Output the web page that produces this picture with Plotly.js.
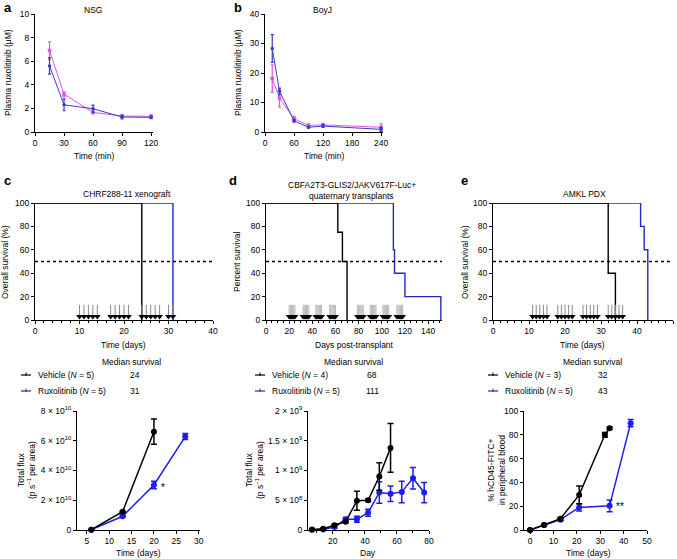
<!DOCTYPE html>
<html><head><meta charset="utf-8">
<script src="https://cdn.plot.ly/plotly-3.0.1.min.js"></script>
<style>html,body{margin:0;padding:0;background:#fff}#chart{width:677px;height:559px}</style>
</head><body><div id="chart"></div>
<script>
// ---------- DATA ----------
const pkTimeNSG = [15, 30, 60, 90, 120];
const nsgBlue = [5.6, 2.3, 1.97, 1.27, 1.24];
const nsgBlueErr = [0.7, 0.5, 0.3, 0.15, 0.1];
const nsgPink = [6.9, 3.2, 1.66, 1.35, 1.33];
const nsgPinkErr = [0.75, 0.2, 0.12, 0.12, 0.12];

const pkTimeBoyJ = [15, 30, 60, 90, 120, 240];
const boyjBlue = [28.3, 13.8, 3.8, 1.6, 2.0, 0.9];
const boyjBlueErr = [4.7, 1.1, 0.5, 0.3, 0.4, 0.7];
const boyjPink = [18.1, 11.5, 4.5, 2.2, 2.4, 1.6];
const boyjPinkErr = [4.7, 3.0, 0.8, 0.6, 0.5, 1.2];

const cVehTime = [0, 24], cVehSurv = [100, 0];
const cRuxTime = [0, 31], cRuxSurv = [100, 0];
const dVehTime = [0, 62, 66, 70], dVehSurv = [100, 75, 50, 0];
const dRuxTime = [0, 110, 111, 120, 151], dRuxSurv = [100, 60, 40, 20, 0];
const eVehTime = [0, 32, 34], eVehSurv = [100, 40, 0];
const eRuxTime = [0, 41, 42, 43], eRuxSurv = [100, 80, 60, 0];

const cDoseDays = [10, 11, 12, 13, 14, 17, 18, 19, 20, 21, 24, 25, 26, 27, 28, 30, 31];
const dDoseDays = [20, 21, 22, 23, 24, 25, 32, 33, 34, 35, 36, 37, 43, 44, 45, 46, 47, 48, 55, 56, 57, 58, 59, 60,
                   79, 80, 81, 82, 83, 84, 90, 91, 92, 93, 94, 95, 101, 102, 103, 104, 105, 106, 113, 114, 115, 116, 117, 118];
const eDoseDays = [11, 12, 13, 14, 15, 18, 19, 20, 21, 22, 25, 26, 27, 28, 29, 32, 33, 34, 35, 36];

const cMedVeh = '24', cMedRux = '31', cNVeh = 5, cNRux = 5;
const dMedVeh = '68', dMedRux = '111', dNVeh = 4, dNRux = 5;
const eMedVeh = '32', eMedRux = '43', eNVeh = 3, eNRux = 5;

const cFluxVehDays = [6, 13, 20];
const cFluxVeh = [0.02e10, 1.23e10, 6.61e10];
const cFluxVehErr = [0, 0.05e10, 0.85e10];
const cFluxRuxDays = [6, 13, 20, 27];
const cFluxRux = [0.02e10, 0.92e10, 3.03e10, 6.28e10];
const cFluxRuxErr = [0, 0.05e10, 0.25e10, 0.2e10];

const dFluxVehDays = [7, 14, 21, 28, 35, 42, 49, 56];
const dFluxVeh = [0.01e9, 0.02e9, 0.08e9, 0.14e9, 0.49e9, 0.50e9, 0.90e9, 1.38e9];
const dFluxVehErr = [0, 0.01e9, 0.02e9, 0.02e9, 0.16e9, 0.02e9, 0.23e9, 0.41e9];
const dFluxRuxDays = [7, 14, 21, 28, 35, 42, 49, 56, 63, 70, 77];
const dFluxRux = [0.005e9, 0.01e9, 0.05e9, 0.18e9, 0.18e9, 0.29e9, 0.63e9, 0.61e9, 0.64e9, 0.87e9, 0.63e9];
const dFluxRuxErr = [0, 0.01e9, 0.02e9, 0.03e9, 0.05e9, 0.06e9, 0.18e9, 0.13e9, 0.18e9, 0.18e9, 0.17e9];

const ePctVehDays = [0, 6, 13, 21, 32, 34];
const ePctVeh = [0, 4.2, 9.5, 29.5, 80, 85.5];
const ePctVehErr = [0, 0.5, 1, 7.5, 2, 1];
const ePctRuxDays = [0, 6, 13, 21, 34, 43];
const ePctRux = [0, 4.2, 8.7, 19, 20.3, 89.8];
const ePctRuxErr = [0, 0.5, 1, 3, 5, 3];

const cFluxTickVals = [0, 2e10, 4e10, 6e10, 8e10];
const cFluxTickText = ['0', '2 × 10<sup>10</sup>', '4 × 10<sup>10</sup>', '6 × 10<sup>10</sup>', '8 × 10<sup>10</sup>'];
const dFluxTickVals = [0, 5e8, 1e9, 1.5e9, 2e9];
const dFluxTickText = ['0', '5 × 10<sup>8</sup>', '1 × 10<sup>9</sup>', '1.5 × 10<sup>9</sup>', '2 × 10<sup>9</sup>'];

// ---------- STYLE ----------
const FONT = 'Liberation Sans, Arial, Helvetica, sans-serif';
const FS = 8.5;
const BLUE_PK = '#3a3ad2', PINK_PK = '#e055e0';
const BLUE_SV = '#2626c8', BLUE_FX = '#1c1cf0';
const W = 677, H = 559;
const px = v => v / W, py = v => 1 - v / H;

function axis(x0, x1, range, extra, isY) {
  const a = {
    domain: isY ? [py(x1), py(x0)] : [px(x0), px(x1)],
    range: range, showline: true, linecolor: '#000', linewidth: 1,
    ticks: 'outside', ticklen: 3, tickwidth: 1, tickcolor: '#000',
    showgrid: false, zeroline: false, fixedrange: true,
    tickfont: {size: FS, family: FONT, color: '#000'}
  };
  return Object.assign(a, extra);
}

const layout = {
  width: W, height: H, margin: {l: 0, r: 0, t: 0, b: 0},
  paper_bgcolor: '#fff', plot_bgcolor: 'rgba(0,0,0,0)',
  showlegend: false, font: {family: FONT, size: FS, color: '#000'},
  // a
  xaxis: axis(35, 153, [0, 122], {anchor: 'y', tickvals: [0, 30, 60, 90, 120]}),
  yaxis: axis(14, 132, [0, 10], {anchor: 'x', dtick: 2}, true),
  // b
  xaxis2: axis(265, 383, [0, 244], {anchor: 'y2', tickvals: [0, 60, 120, 180, 240]}),
  yaxis2: axis(14, 132, [0, 40], {anchor: 'x2', dtick: 10}, true),
  // c
  xaxis3: axis(35, 213, [0, 40], {anchor: 'y3', dtick: 10, minor: {dtick: 2, ticklen: 2, ticks: 'outside', tickcolor: '#000'}}),
  yaxis3: axis(203, 320, [0, 100], {anchor: 'x3', dtick: 20}, true),
  // d
  xaxis4: axis(266, 442, [0, 152], {anchor: 'y4', tickvals: [0, 20, 40, 60, 80, 100, 120, 140], minor: {dtick: 5, ticklen: 2, ticks: 'outside', tickcolor: '#000'}}),
  yaxis4: axis(203, 320, [0, 100], {anchor: 'x4', dtick: 20}, true),
  // e
  xaxis5: axis(493, 673, [0, 50], {anchor: 'y5', dtick: 10, minor: {dtick: 2, ticklen: 2, ticks: 'outside', tickcolor: '#000'}}),
  yaxis5: axis(203, 320, [0, 100], {anchor: 'x5', dtick: 20}, true),
  // c flux
  xaxis6: axis(77, 200, [2.8, 30.3], {anchor: 'y6', tickvals: [5, 10, 15, 20, 25, 30]}),
  yaxis6: axis(411, 530, [0, 8e10], {anchor: 'x6', tickvals: cFluxTickVals, ticktext: cFluxTickText}, true),
  // d flux
  xaxis7: axis(308, 429, [4.5, 80], {anchor: 'y7', tickvals: [20, 40, 60, 80], minor: {dtick: 10, ticklen: 2, ticks: 'outside', tickcolor: '#000'}}),
  yaxis7: axis(411, 530, [0, 2e9], {anchor: 'x7', tickvals: dFluxTickVals, ticktext: dFluxTickText}, true),
  // e pct
  xaxis8: axis(524, 647, [-2.6, 50], {anchor: 'y8', dtick: 10}),
  yaxis8: axis(411, 530, [0, 100], {anchor: 'x8', dtick: 20}, true),
  shapes: [], annotations: []
};

// dotted 50% lines
['3', '4', '5'].forEach(k => {
  layout.shapes.push({type: 'line', xref: 'x' + k + ' domain', yref: 'y' + k, x0: 0, x1: 1, y0: 50, y1: 50,
    line: {color: '#000', width: 1.3, dash: 'dot'}});
});

function ann(text, x, y, opts) {
  layout.annotations.push(Object.assign({text: text, xref: 'paper', yref: 'paper', x: px(x), y: py(y),
    showarrow: false, xanchor: 'center', yanchor: 'middle', font: {size: FS, family: FONT, color: '#000'}}, opts || {}));
}
// panel letters
[['a', 2, 8], ['b', 232, 8], ['c', 2, 180], ['d', 227, 180], ['e', 459, 180]].forEach(l =>
  ann('<b>' + l[0] + '</b>', l[1], l[2], {xanchor: 'left', font: {size: 13, family: FONT, color: '#000'}}));
// titles
ann('NSG', 93, 10); ann('BoyJ', 322, 10);
ann('CHRF288-11 xenograft', 127, 194);
ann('CBFA2T3-GLIS2/JAKV617F-Luc+', 352, 185); ann('quaternary transplants', 352, 196);
ann('AMKL PDX', 584, 194);
// axis titles
ann('Time (min)', 94, 156); ann('Time (min)', 324, 156);
ann('Plasma ruxolitinib (μM)', 8, 73, {textangle: -90});
ann('Plasma ruxolitinib (μM)', 238, 73, {textangle: -90});
ann('Time (days)', 124, 345); ann('Days post-transplant', 354, 345); ann('Time (days)', 582, 345);
ann('Overall survival (%)', 5, 262, {textangle: -90});
ann('Percent survival', 237, 262, {textangle: -90});
ann('Overall survival (%)', 465, 262, {textangle: -90});
ann('Time (days)', 138, 553); ann('Day', 368, 553); ann('Time (days)', 588, 553);
ann('Total flux<br>(p s<sup>−1</sup> per area)', 26, 470, {textangle: -90});
ann('Total flux<br>(p s<sup>−1</sup> per area)', 254, 470, {textangle: -90});
ann('% hCD45-FITC+<br>in peripheral blood', 496, 470, {textangle: -90});
// significance marks
layout.annotations.push({text: '*', xref: 'x6', yref: 'y6', x: 22, y: 2.85e10, showarrow: false, font: {size: 10, family: FONT, color: '#000'}});
layout.annotations.push({text: '**', xref: 'x8', yref: 'y8', x: 38.6, y: 19.5, showarrow: false, font: {size: 10, family: FONT, color: '#000'}});

// survival legends
function legendBlock(cx, symX, txtX, medX, nVeh, nRux, medVeh, medRux) {
  ann('Median survival', cx, 362);
  [[375, '#000', 'Vehicle (<i>N</i> = ' + nVeh + ')', medVeh], [391, BLUE_SV, 'Ruxolitinib (<i>N</i> = ' + nRux + ')', medRux]].forEach(r => {
    layout.shapes.push({type: 'line', xref: 'paper', yref: 'paper', x0: px(symX), x1: px(symX + 10), y0: py(r[0]), y1: py(r[0]), line: {color: r[1], width: 1.2}});
    layout.shapes.push({type: 'line', xref: 'paper', yref: 'paper', x0: px(symX + 5), x1: px(symX + 5), y0: py(r[0] - 2.5), y1: py(r[0] + 1), line: {color: r[1], width: 1}});
    ann(r[2], txtX, r[0], {xanchor: 'left'});
    ann(r[3], medX, r[0]);
  });
}
legendBlock(131, 21, 36, 135, cNVeh, cNRux, cMedVeh, cMedRux);
legendBlock(353, 255, 270, 372, dNVeh, dNRux, dMedVeh, dMedRux);
legendBlock(592, 488, 503, 603, eNVeh, eNRux, eMedVeh, eMedRux);

// ---------- TRACES ----------
const traces = [];
function pk(x, y, err, color, xa, ya, sym) {
  traces.push({type: 'scatter', mode: 'lines+markers', x: x, y: y, xaxis: xa, yaxis: ya,
    line: {color: color, width: 1}, marker: {color: color, size: 3.5, symbol: sym},
    error_y: {type: 'data', array: err, color: color, thickness: 1.2, width: 1.5}});
}
pk(pkTimeNSG, nsgPink, nsgPinkErr, PINK_PK, 'x', 'y', 'square');
pk(pkTimeNSG, nsgBlue, nsgBlueErr, BLUE_PK, 'x', 'y', 'circle');
pk(pkTimeBoyJ, boyjPink, boyjPinkErr, PINK_PK, 'x2', 'y2', 'square');
pk(pkTimeBoyJ, boyjBlue, boyjBlueErr, BLUE_PK, 'x2', 'y2', 'circle');

function surv(t, s, color, xa, ya) {
  traces.push({type: 'scatter', mode: 'lines', x: t, y: s, xaxis: xa, yaxis: ya,
    line: {color: color, width: 1.4, shape: 'hv'}, cliponaxis: false});
}
function doses(days, xa, ya, thick) {
  traces.push({type: 'scatter', mode: 'markers', x: days, y: days.map(() => 3), xaxis: xa, yaxis: ya,
    marker: {symbol: 'triangle-down', size: 6, color: '#000'}, cliponaxis: false,
    error_y: {type: 'data', symmetric: false, array: days.map(() => 10), arrayminus: days.map(() => 0),
      color: '#8a8a8a', thickness: thick, width: 0}});
}
surv(cRuxTime, cRuxSurv, BLUE_SV, 'x3', 'y3'); surv(cVehTime, cVehSurv, '#000', 'x3', 'y3');
doses(cDoseDays, 'x3', 'y3', 1);
surv(dRuxTime, dRuxSurv, BLUE_SV, 'x4', 'y4'); surv(dVehTime, dVehSurv, '#000', 'x4', 'y4');
doses(dDoseDays, 'x4', 'y4', 0.6);
surv(eRuxTime, eRuxSurv, BLUE_SV, 'x5', 'y5'); surv(eVehTime, eVehSurv, '#000', 'x5', 'y5');
doses(eDoseDays, 'x5', 'y5', 1);

function flux(x, y, err, color, xa, ya) {
  traces.push({type: 'scatter', mode: 'lines+markers', x: x, y: y, xaxis: xa, yaxis: ya, cliponaxis: false,
    line: {color: color, width: 1.5}, marker: {color: color, size: 6, symbol: 'circle'},
    error_y: {type: 'data', array: err, color: color, thickness: 1.5, width: 3}});
}
flux(cFluxRuxDays, cFluxRux, cFluxRuxErr, BLUE_FX, 'x6', 'y6');
flux(cFluxVehDays, cFluxVeh, cFluxVehErr, '#000', 'x6', 'y6');
flux(dFluxRuxDays, dFluxRux, dFluxRuxErr, BLUE_FX, 'x7', 'y7');
flux(dFluxVehDays, dFluxVeh, dFluxVehErr, '#000', 'x7', 'y7');
flux(ePctRuxDays, ePctRux, ePctRuxErr, BLUE_FX, 'x8', 'y8');
flux(ePctVehDays, ePctVeh, ePctVehErr, '#000', 'x8', 'y8');

Plotly.newPlot('chart', traces, layout, {staticPlot: true, displayModeBar: false});
</script></body></html>
